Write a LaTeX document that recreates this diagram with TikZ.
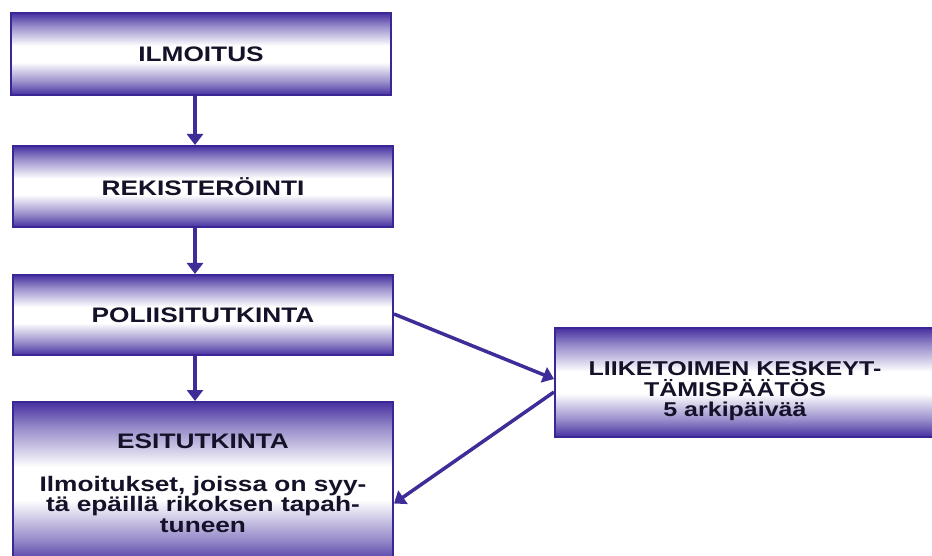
\documentclass[tikz,border=0pt]{standalone}
\usepackage{fontspec}
\setmainfont{Liberation Sans}[FakeStretch=1.25]
\usetikzlibrary{arrows.meta}
\definecolor{boxedge}{RGB}{58,38,148}
\definecolor{boxfill}{RGB}{70,48,160}
\definecolor{arrowcol}{RGB}{64,44,152}
\definecolor{txtcol}{RGB}{20,18,40}
\pgfdeclareverticalshading{boxshade}{100bp}{color(0bp)=(boxfill); color(25bp)=(boxfill); color(33bp)=(boxfill!55); color(45bp)=(white); color(55bp)=(white); color(67bp)=(boxfill!55); color(75bp)=(boxfill); color(100bp)=(boxfill)}
\tikzset{
  flowbox/.style={rectangle, draw=boxedge, line width=2pt,
    shading=boxshade,
    minimum width=380pt, inner sep=0pt, align=center,
    text=txtcol, font=\bfseries\fontsize{21}{20.5}\selectfont},
  flowtext/.style={inner sep=0pt, align=center, text=txtcol,
    font=\bfseries\fontsize{20}{20.5}\selectfont},
  flowarrow/.style={draw=arrowcol, line width=3.5pt,
    -{Triangle[width=16pt,length=11pt]}}
}
\begin{document}
\begin{tikzpicture}[x=1pt,y=-1pt]
\useasboundingbox (0,0) rectangle (932,556);
\node[flowbox, minimum height=82pt] (b1) at (201,54) {ILMOITUS};
\node[flowbox, minimum height=81pt] (b2) at (203,186.5) {REKISTERÖINTI};
\node[flowbox, minimum height=80pt] (b3) at (203,315) {POLIISITUTKINTA};
\node[flowbox, minimum height=163pt] (b4) at (203,483.5)
  {ESITUTKINTA\\[22pt]Ilmoitukset, joissa on syy-\\tä epäillä rikoksen tapah-\\tuneen};
\node[flowbox, minimum width=385pt, minimum height=109pt] (b5) at (747.5,382.5) {};
\node[flowtext] (b5t) at (735,391.5) {LIIKETOIMEN KESKEYT-\\TÄMISPÄÄTÖS\\5 arkipäivää};
\coordinate (ax) at (195,0);
\draw[flowarrow] (b1.south -| ax) -- (b2.north -| ax);
\draw[flowarrow] (b2.south -| ax) -- (b3.north -| ax);
\draw[flowarrow] (b3.south -| ax) -- (b4.north -| ax);
\draw[flowarrow] ([yshift=1pt]b3.east) -- ([yshift=3.5pt]b5.west);
\draw[flowarrow] ([yshift=-9.5pt]b5.west) -- ([yshift=-20pt]b4.east);
\end{tikzpicture}
\end{document}
